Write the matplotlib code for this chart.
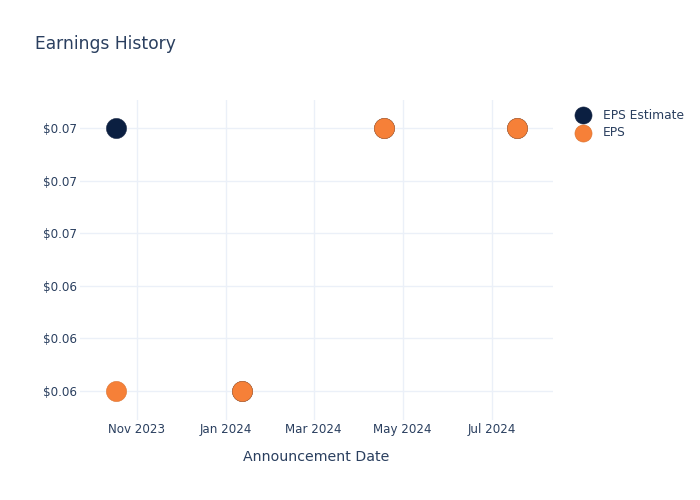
import matplotlib
matplotlib.use("Agg")
import matplotlib.pyplot as plt
import matplotlib.dates as mdates
from matplotlib.ticker import FuncFormatter
import numpy as np
import pandas as pd

# data
dates = pd.to_datetime(["2023-10-18", "2024-01-12", "2024-04-18", "2024-07-18"])
eps_estimate = [0.07, 0.06, 0.07, 0.07]
eps_actual = [0.06, 0.06, 0.07, 0.07]

text_color = "#2a3f5f"
grid_color = "#ebf0f8"
navy = "#0b1f41"
orange = "#f68038"

plt.rcParams["font.family"] = ["DejaVu Sans"]

fig = plt.figure(figsize=(7, 5), dpi=100)
ax = fig.add_axes([80 / 700, 80 / 500, 473 / 700, 320 / 500])

ax.scatter(dates, eps_estimate, s=210, color=navy, edgecolors="#1c2b48",
           linewidths=0.4, label="EPS Estimate", zorder=3)
ax.scatter(dates, eps_actual, s=210, color=orange, edgecolors="#d9722f",
           linewidths=0.4, label="EPS", zorder=4)

ax.set_xlim(pd.Timestamp("2023-09-23"), pd.Timestamp("2024-08-12"))
ax.set_ylim(0.05890, 0.07106)

ax.set_yticks(np.linspace(0.060, 0.070, 6))
ax.yaxis.set_major_formatter(FuncFormatter(lambda v, p: f"${v:.2f}"))
ax.xaxis.set_major_locator(mdates.MonthLocator(bymonth=[1, 3, 5, 7, 9, 11]))
ax.xaxis.set_major_formatter(mdates.DateFormatter("%b %Y"))

for s in ax.spines.values():
    s.set_visible(False)
ax.grid(True, color=grid_color, linewidth=1)
ax.set_axisbelow(True)
ax.tick_params(length=0, labelsize=8.6, colors=text_color)
ax.tick_params(axis="y", pad=2)
ax.tick_params(axis="x", pad=2)

ax.set_xlabel("Announcement Date", fontsize=10.2, color=text_color, labelpad=10)

fig.text(35 / 700, 1 - 44 / 500, "Earnings History", fontsize=12.3,
         color=text_color, va="center", ha="left")

leg = ax.legend(loc="upper left", bbox_to_anchor=(1.02, 1.0), frameon=False,
                fontsize=8.8, labelcolor=text_color, handletextpad=0.6,
                labelspacing=0.4, borderaxespad=0.3, markerscale=0.85)

fig.savefig("out.png", dpi=100)
